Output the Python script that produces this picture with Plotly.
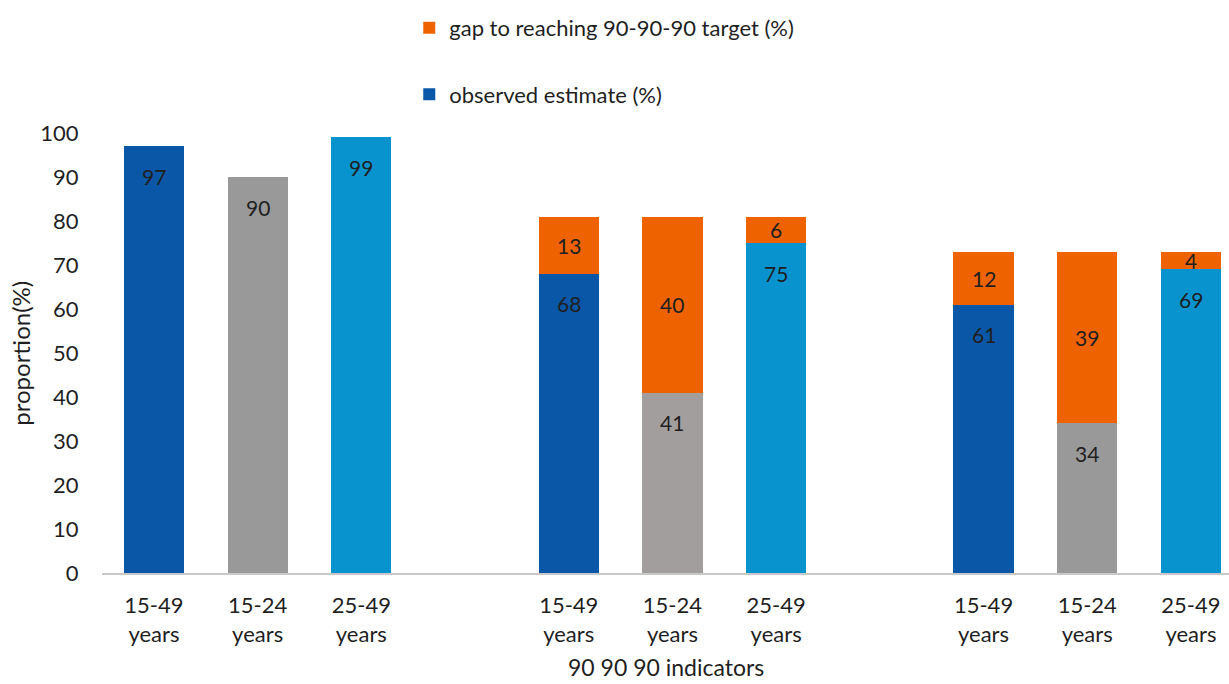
import plotly.graph_objects as go

# Age groups shown under every indicator block
age_groups = ["15-49 years", "15-24 years", "25-49 years"]
n_blocks = 3

# Observed estimate (%) per bar, block by block
observed = [97, 90, 99, 68, 41, 75, 61, 34, 69]
# Gap to the 90-90-90 target (%) — first block has none
gap = [None, None, None, 13, 40, 6, 12, 39, 4]

tick_text = ["15-49<br>years", "15-24<br>years", "25-49<br>years"] * n_blocks

# Styling
FONT = "Lato, Carlito, Calibri, sans-serif"
TXT = "#1f1f1f"
bar_colors = ["#0A57A7", "#999999", "#0893CF",
              "#0A57A7", "#A39E9E", "#0893CF",
              "#0A57A7", "#999999", "#0893CF"]
ORANGE = "#EF6200"

# Bars sit on a numeric axis with an empty slot between indicator blocks
pos = [b * 4 + i for b in range(n_blocks) for i in range(len(age_groups))]
gap_pos = [p for p, g in zip(pos, gap) if g is not None]
gap_val = [g for g in gap if g is not None]
gap_base = [o for o, g in zip(observed, gap) if g is not None]

fig = go.Figure()
fig.add_trace(go.Bar(
    x=pos, y=observed, name="observed estimate (%)",
    marker=dict(color=bar_colors, line=dict(width=0)),
    width=0.58, legendgroup="obs", legendrank=2,
))
fig.add_trace(go.Bar(
    x=gap_pos, y=gap_val, name="gap to reaching 90-90-90 target (%)",
    marker=dict(color=ORANGE, line=dict(width=0)),
    width=0.58, legendgroup="gap", legendrank=1,
))

# Value labels: observed near the inside top, gaps centred in their segment
for x, v in zip(pos, observed):
    fig.add_annotation(x=x, y=v, yshift=-30, text=str(v), showarrow=False,
                       font=dict(family=FONT, size=21, color=TXT))
for x, b, g in zip(gap_pos, gap_base, gap_val):
    fig.add_annotation(x=x, y=b + g / 2, text=str(g), showarrow=False,
                       font=dict(family=FONT, size=21, color=TXT))

# Axis titles
fig.add_annotation(xref="paper", yref="paper", x=0.5, y=-0.214, yanchor="middle",
                   text="90 90 90 indicators", showarrow=False,
                   font=dict(family=FONT, size=23, color=TXT))
fig.add_annotation(xref="paper", yref="paper", x=-0.073, y=0.5,
                   xanchor="center", yanchor="middle", textangle=-90,
                   text="proportion(%)", showarrow=False,
                   font=dict(family=FONT, size=24, color=TXT))

fig.update_layout(
    width=1229, height=684,
    margin=dict(l=102, r=0, t=133, b=111, autoexpand=False),
    barmode="stack", bargap=0,
    paper_bgcolor="white", plot_bgcolor="white",
    font=dict(family=FONT, size=19, color=TXT),
    showlegend=True,
    legend=dict(
        orientation="v", xref="container", yref="container",
        x=0.333, y=0.99, xanchor="left", yanchor="top",
        tracegroupgap=35, font=dict(size=22, color=TXT),
        itemwidth=30, traceorder="grouped",
    ),
    xaxis=dict(
        range=[-0.501, 10.367], tickmode="array", tickvals=pos, ticktext=tick_text,
        tickangle=0, automargin=False,
        showgrid=False, zeroline=False, showline=True, linecolor="#c8c8c8", linewidth=1.5,
        ticks="outside", ticklen=12, tickcolor="rgba(0,0,0,0)",
        tickfont=dict(size=22, color=TXT),
    ),
    yaxis=dict(
        range=[0, 100], tickmode="linear", dtick=10, automargin=False,
        showgrid=False, zeroline=False, showline=False,
        ticks="outside", ticklen=18, tickcolor="rgba(0,0,0,0)",
        tickfont=dict(size=22, color=TXT),
    ),
)

fig.write_html("out.html")
